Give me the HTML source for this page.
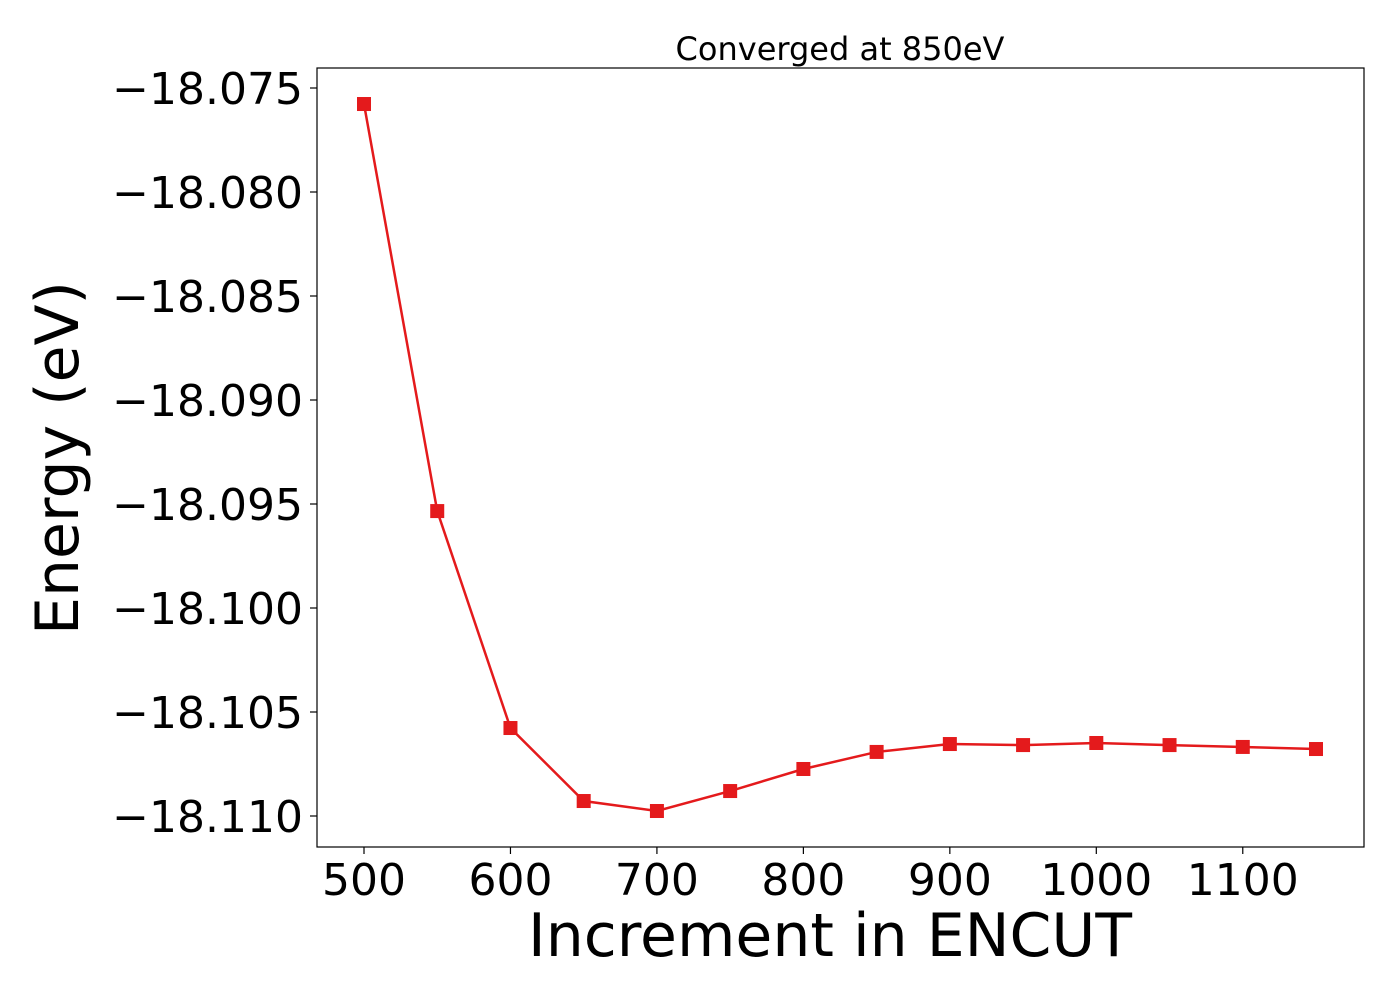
<!DOCTYPE html>
<html><head><meta charset="utf-8"><style>
html,body{margin:0;padding:0;background:#fff;}
svg{display:block;font-family:"DejaVu Sans","Liberation Sans",sans-serif;}
</style></head><body>
<svg id="chart" width="1400" height="1000" viewBox="0 0 1400 1000">
<rect x="0" y="0" width="1400" height="1000" fill="#fff"/>
<text x="840" y="60" font-size="32" text-anchor="middle" fill="#000">Converged at 850eV</text>
<g id="xticks"></g>
<g id="yticks"></g>
<g id="series"></g>
<rect x="317" y="68" width="1047" height="779" fill="none" stroke="#000" stroke-width="1.2"/>
<text x="830" y="956" font-size="60" text-anchor="middle" fill="#000">Increment in ENCUT</text>
<text transform="translate(78,458) rotate(-90)" font-size="60" text-anchor="middle" fill="#000">Energy (eV)</text>
</svg>
<script>
const encut = [500,550,600,650,700,750,800,850,900,950,1000,1050,1100,1150];
const energy = [-18.07577,-18.09534,-18.10577,-18.10928,-18.10976,-18.1088,-18.10774,-18.10692,-18.10654,-18.10659,-18.10649,-18.10659,-18.10668,-18.10678];
const xTicks = [500,600,700,800,900,1000,1100];
const yTicks = [-18.075,-18.080,-18.085,-18.090,-18.095,-18.100,-18.105,-18.110];
const yTickLabels = ["\u221218.075","\u221218.080","\u221218.085","\u221218.090","\u221218.095","\u221218.100","\u221218.105","\u221218.110"];

const NS="http://www.w3.org/2000/svg";
function xs(v){return 364+(v-500)*(1316-364)/650;}
function ys(v){return 88+(-18.075-v)*(816-88)/0.035;}
function mk(tag,attrs,parent){const e=document.createElementNS(NS,tag);for(const k in attrs)e.setAttribute(k,attrs[k]);parent.appendChild(e);return e;}

const gx=document.getElementById('xticks');
xTicks.forEach(t=>{
  const l=mk('line',{x1:xs(t),x2:xs(t),y1:847,y2:854,stroke:'#000','stroke-width':1.2},gx);
  
  
  const tx=mk('text',{x:xs(t),y:895,'font-size':44,'text-anchor':'middle',fill:'#000'},gx);
  tx.textContent=t;
  
  
});
const gy=document.getElementById('yticks');
yTicks.forEach((t,i)=>{
  const l=mk('line',{x1:310,x2:317,y1:ys(t),y2:ys(t),stroke:'#000','stroke-width':1.2},gy);
  
  
  const tx=mk('text',{x:303,y:ys(t)+16,'font-size':44,'text-anchor':'end',fill:'#000'},gy);
  tx.textContent=yTickLabels[i];
  
  
});
const gs=document.getElementById('series');
const pts=encut.map((v,i)=>xs(v)+','+ys(energy[i])).join(' ');
const pl=mk('polyline',{points:pts,fill:'none',stroke:'#e41a1c','stroke-width':2.5},gs);


encut.forEach((v,i)=>{
  const r=mk('rect',{x:xs(v)-7,y:ys(energy[i])-7,width:14,height:14,fill:'#e41a1c'},gs);
  
  
});
</script>
</body></html>
